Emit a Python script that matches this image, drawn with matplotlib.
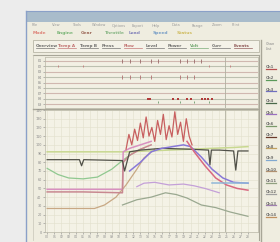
import matplotlib
matplotlib.use("Agg")
import matplotlib.pyplot as plt
from matplotlib.patches import Rectangle
import numpy as np

# ---------------- data ----------------
menu_items = ["File", "View", "Tools", "Window", "Options", "Export", "Help", "Data", "Range", "Zoom", "Print"]
mode_labels = ["Mode", "Engine", "Gear", "Throttle", "Load", "Speed", "Status"]
mode_colors = ["#d9655a", "#5aa65a", "#8a4a3a", "#6aa66a", "#6a6ab0", "#5a8ac0", "#c8b040"]
tab_labels = ["Overview", "Temp A", "Temp B", "Press", "Flow", "Level", "Power", "Volt", "Curr", "Events"]
tab_colors = ["#555", "#b85a5a", "#555", "#555", "#b85a5a", "#555", "#555", "#5a9a5a", "#555", "#7a3a3a"]
panel_labels = ["Ch1", "Ch2", "Ch3", "Ch4", "Ch5", "Ch6", "Ch7", "Ch8", "Ch9", "Ch10", "Ch11", "Ch12", "Ch13", "Ch14"]
panel_colors = ["#b85050", "#5a9a5a", "#7070c0", "#4a6a4a", "#9a70c0", "#7a9a6a", "#6a3a2a",
                "#c0a060", "#80a8d0", "#b09070", "#90a080", "#a0a0a0", "#a080b0", "#c09060"]

event_rows = ["E1", "E2", "E3", "E4", "E5", "E6", "E7", "E8", "E9"]
ev_row1_t = [10.5, 11.5, 13.0, 14.5, 15.5, 18.5, 19.5, 20.5, 21.5]
ev_row2_t = [1.5, 5.0, 22.5, 25.5]
ev_row3_t = [10.5, 11.5, 13.0, 14.5, 18.5, 19.5, 20.5]
ev_red_t = [14.0, 14.3, 17.5, 18.2, 19.5, 20.0, 21.6, 22.0, 22.4, 23.0]
ev_green_t = [15.5, 18.5, 20.5, 22.5]

x_ticks = list(range(0, 29))
y_ticks = list(range(0, 141, 10))

t_flat = [0, 3, 6, 9, 11, 14, 17, 20, 23, 26, 28]
yellow_line = [92, 92, 92, 92, 92, 93, 94, 95, 96, 97, 98]

t_dark = [0, 4.5, 4.8, 5.1, 10.5, 10.8, 11.5, 13, 16, 20, 22.5, 22.7, 22.9, 24, 26, 26.3, 26.6, 28]
dark_line = [83, 83, 76, 83, 82, 70, 92, 94, 96, 95, 94, 77, 94, 94, 93, 71, 93, 93]

t_green = [0, 1.5, 3, 5, 7, 9, 10.5, 11.5, 12.5, 13.5]
green_line = [73, 66, 62, 61, 63, 72, 82, 88, 93, 96]

t_pink = [0, 5, 10.5, 10.6, 11.5, 13, 14.5]
pink_line_a = [49, 49, 49, 92, 96, 100, 104]
pink_line_b = [46, 46, 45, 80, 88, 95, 100]

t_tan = [0, 4, 6.6, 8, 9.6, 11, 12.5, 13.5, 15]
tan_line = [27, 27, 27, 31, 40, 54, 72, 85, 95]

t_red = [11.0, 11.4, 11.8, 12.2, 12.6, 13.0, 13.4, 13.8, 14.2, 14.6, 15.0, 15.4, 15.8, 16.2, 16.6,
         17.0, 17.4, 17.8, 18.2, 18.6, 19.0, 19.4, 19.8, 20.2]
red_spiky = [95, 112, 100, 118, 105, 125, 108, 132, 110, 120, 104, 128, 112, 135, 106, 122, 109,
             138, 112, 126, 104, 130, 110, 100]

t_purple = [11.5, 13, 14.5, 16, 17.5, 19, 20, 21.5, 23, 24.5, 26, 28]
purple_line = [70, 80, 92, 96, 98, 100, 98, 86, 72, 62, 57, 56]

t_decline = [19.5, 20.5, 22, 23.5, 25, 26.5, 28]
red_decline = [104, 92, 76, 62, 54, 50, 48]

t_lav = [12.5, 13.5, 15, 17, 19, 20.5, 22, 24]
lavender_line = [52, 56, 57, 54, 55, 53, 50, 45]

t_gray = [10.5, 12.5, 14.5, 16.5, 18, 19.5, 21.5, 23.5, 25.5, 28]
gray_line = [31, 37, 40, 45, 43, 39, 31, 28, 23, 18]

# ---------------- figure ----------------
W, H = 280, 242
fig = plt.figure(figsize=(W / 100, H / 100), dpi=100)
fig.patch.set_facecolor("#ececec")

bg = fig.add_axes([0, 0, 1, 1])
bg.set_xlim(0, W)
bg.set_ylim(H, 0)
bg.axis("off")

body = "#efede0"
# window
bg.add_patch(Rectangle((26, 11), 254, 231, facecolor=body, edgecolor="none"))
bg.add_patch(Rectangle((26, 11), 254, 11, facecolor="#a9bccb", edgecolor="none"))
bg.plot([26, 26], [11, 242], color="#8aa0c8", lw=1.0)
bg.plot([26, 280], [11, 11], color="#8aa0c8", lw=0.8)

# menu text
mx = 32
for m in menu_items:
    bg.text(mx, 25.5, m, fontsize=2.6, color="#9a9a9a", va="center", ha="left")
    mx += 20
# mode legend words
for i, (lab, col) in enumerate(zip(mode_labels, mode_colors)):
    bg.text(33 + i * 24, 33, lab, fontsize=3.2, color=col, va="center", ha="left", fontweight="bold", alpha=0.8)

# tab bar
bg.add_patch(Rectangle((33, 40), 226, 12, facecolor="#f4f2e8", edgecolor="#b8b6a6", lw=0.6))
for i, (lab, col) in enumerate(zip(tab_labels, tab_colors)):
    bg.text(36 + i * 22, 46, lab, fontsize=3.0, color=col, va="center", ha="left", fontweight="bold", alpha=0.85)
    bg.plot([36 + i * 22, 54 + i * 22], [48.3, 48.3], color=col, lw=0.5, alpha=0.8)

# right panel
bg.plot([261, 261], [40, 242], color="#a8a698", lw=1.0)
bg.text(266, 44, "Chan", fontsize=2.6, color="#888", va="center")
bg.text(266, 48.5, "List", fontsize=2.6, color="#888", va="center")
for i, (lab, col) in enumerate(zip(panel_labels, panel_colors)):
    y = 67 + i * 11.4
    bg.text(266, y, lab, fontsize=2.8, color="#555", va="center", fontweight="bold", alpha=0.8)
    bg.plot([266, 276], [y + 1.6, y + 1.6], color=col, lw=0.9)

# chart frames
bg.plot([33, 259], [55, 55], color="#a8a698", lw=0.8)
bg.plot([33, 33], [55, 240], color="#c8c6b8", lw=0.5)
bg.plot([259, 259], [55, 240], color="#a8a698", lw=0.8)
bg.plot([33, 259], [109, 109], color="#a8a698", lw=1.0)


def px_axes(l, r, t, b):
    return fig.add_axes([l / W, (H - b) / H, (r - l) / W, (b - t) / H])


# ---------------- event chart ----------------
ax1 = px_axes(45, 258, 57, 108)
ax1.set_facecolor("#f2f0e4")
ax1.set_xlim(-0.3, 29.4)
ax1.set_ylim(len(event_rows) - 0.3, -0.7)
for i in range(len(event_rows)):
    col = "#d0b8b0" if i % 2 == 0 else "#bcc0b0"
    ax1.axhline(i, color=col, lw=0.8)
ax1.axvline(24.8, color="#b0b0a0", lw=0.6)
ax1.plot(ev_row1_t, [0] * len(ev_row1_t), "|", color="#9a6a6a", ms=2.5, mew=0.6)
ax1.plot(ev_row2_t, [1] * len(ev_row2_t), "|", color="#c07a7a", ms=2, mew=0.6)
ax1.plot(ev_row3_t, [3] * len(ev_row3_t), "|", color="#b07070", ms=2.5, mew=0.6)
ax1.plot(ev_red_t, [7] * len(ev_red_t), "s", color="#b03a3a", ms=1.8, mew=0)
ax1.plot(ev_green_t, [7.6] * len(ev_green_t), "|", color="#6a9a6a", ms=2, mew=0.6)
ax1.set_xticks([])
ax1.set_yticks(range(len(event_rows)))
ax1.set_yticklabels(event_rows, fontsize=2.4, color="#777")
ax1.tick_params(axis="y", length=1.5, width=0.4, pad=1, colors="#888")
for s in ax1.spines.values():
    s.set_color("#b8b6a6")
    s.set_linewidth(0.5)

# ---------------- main chart ----------------
ax2 = px_axes(45, 258, 110, 232)
ax2.set_facecolor("#f4f2e6")
ax2.set_xlim(-0.3, 29.4)
ax2.set_ylim(0, 140)
ax2.grid(True, color="#e2e0cc", lw=0.4)
ax2.axvline(24.8, color="#b0b0a0", lw=0.6)

ax2.plot(t_tan, tan_line, color="#c8a884", lw=0.9)
ax2.plot(t_gray, gray_line, color="#9aa890", lw=0.9)
ax2.plot(t_lav, lavender_line, color="#c4a0d8", lw=0.9)
ax2.plot(t_green, green_line, color="#90c890", lw=0.9)
ax2.plot(t_flat, yellow_line, color="#c8d890", lw=1.1)
ax2.plot(t_pink, pink_line_a, color="#d890c0", lw=1.1)
ax2.plot(t_pink, pink_line_b, color="#c88890", lw=1.1)
ax2.plot(t_dark, dark_line, color="#505048", lw=0.9)
ax2.plot(t_red, red_spiky, color="#c86060", lw=0.9)
ax2.plot(t_purple, purple_line, color="#8878d8", lw=1.1)
ax2.plot(t_decline, red_decline, color="#d86880", lw=1.1)
ax2.plot([23, 28], [56, 56], color="#90b8d8", lw=1.1)

ax2.set_xticks(x_ticks)
ax2.set_xticklabels([f"{v:02d}" for v in x_ticks], fontsize=2.2, color="#777")
ax2.set_yticks(y_ticks)
ax2.set_yticklabels([str(v) for v in y_ticks], fontsize=2.4, color="#777")
ax2.tick_params(length=1.5, width=0.4, pad=1, colors="#888")
for s in ax2.spines.values():
    s.set_color("#b8b6a6")
    s.set_linewidth(0.5)

fig.savefig("out.png", dpi=100, facecolor=fig.get_facecolor())
